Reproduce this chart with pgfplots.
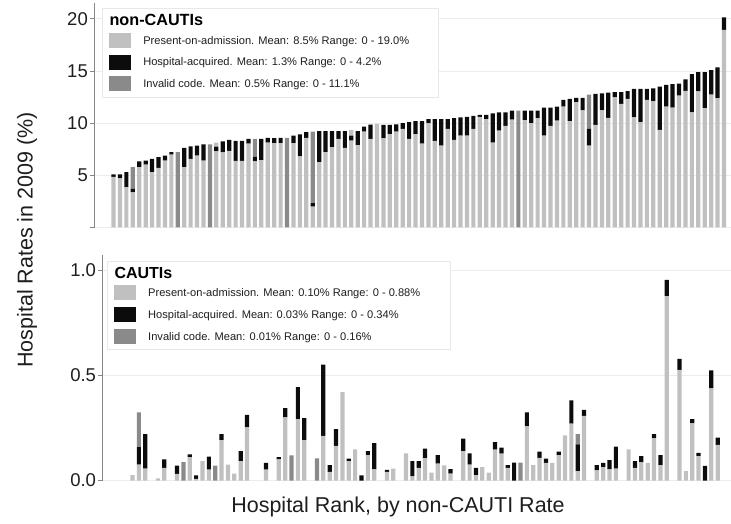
\documentclass[border=0pt]{standalone}
\usepackage{pgfplots}
\pgfplotsset{compat=1.18}
\usepackage{pgfplotstable}
\usepackage{fontspec}
\setmainfont{Liberation Sans}
\definecolor{lgray}{RGB}{192,192,192}
\definecolor{dgray}{RGB}{138,138,138}
\definecolor{kblack}{RGB}{12,12,12}
\definecolor{axgray}{RGB}{135,135,135}
\definecolor{gridgray}{RGB}{236,236,236}
\definecolor{txt}{RGB}{30,30,30}

% non-CAUTI rates: L1 = present-on-admission (bottom), D1 = invalid code,
% K = hospital-acquired, L2/D2 = remaining part drawn above the black segment
\pgfplotstableread{
x L1 D1 K L2 D2
1 4.85 0 0.25 0 0
2 4.70 0 0.40 0 0
3 3.86 0 1.44 0 0
4 3.38 0 0.33 0 2.07
5 5.78 0 0.55 0 0
6 6.04 0 0.38 0 0
7 5.30 0 1.28 0 0
8 5.72 0 1.02 0 0
9 6.42 0 0.48 0 0
10 7.00 0 0.22 0 0
11 0 7.22 0 0 0
12 5.78 0 1.86 0 0
13 6.58 0 1.19 0 0
14 6.90 0 0.96 0 0
15 6.42 0 1.54 0 0
16 0 7.96 0 0 0
17 7.30 0 0.45 0.40 0
18 7.20 0 1.05 0 0
19 7.35 0 1.05 0 0
20 6.40 0 1.90 0 0
21 6.40 0 1.90 0 0
22 8.05 0 0.45 0 0
23 6.35 0 0.45 0 1.70
24 6.45 0 2.05 0 0
25 8.15 0 0.45 0 0
26 8.08 0 0.48 0 0
27 8.08 0 0.52 0 0
28 0 8.60 0 0 0
29 8.08 0 0.74 0 0
30 6.81 0 2.11 0 0
31 8.60 0 0.54 0 0
32 2.00 0 0.33 0 6.87
33 6.26 0 2.97 0 0
34 7.22 0 2.01 0 0
35 7.70 0 1.53 0 0
36 8.50 0 0.73 0 0
37 7.64 0 1.59 0 0
38 8.34 0 0.48 0.53 0
39 7.90 0 1.33 0 0
40 9.20 0 0.47 0 0
41 8.50 0 1.36 0 0
42 9.93 0 0 0 0
43 8.55 0 1.30 0 0
44 8.95 0 0.90 0 0
45 9.20 0 0.70 0 0
46 9.45 0 0.55 0 0
47 8.50 0 1.60 0 0
48 8.95 0 1.25 0 0
49 8.05 0 2.15 0 0
50 10.00 0 0.40 0 0
51 8.30 0 2.10 0 0
52 7.85 0 2.55 0 0
53 9.45 0 0.95 0 0
54 8.40 0 2.10 0 0
55 8.80 0 1.75 0 0
56 8.80 0 1.80 0 0
57 9.45 0 1.25 0 0
58 10.60 0 0.20 0 0
59 10.40 0 0.40 0 0
60 8.15 0 2.80 0 0
61 9.30 0 1.75 0 0
62 9.75 0 1.30 0 0
63 10.35 0 0.85 0 0
64 0 11.20 0 0 0
65 10.30 0 0.90 0 0
66 10.00 0 1.20 0 0
67 10.50 0 0.70 0 0
68 8.80 0 2.70 0 0
69 9.75 0 1.75 0 0
70 10.25 0 1.35 0 0
71 11.60 0 0.64 0 0
72 10.19 0 2.14 0 0
73 12.02 0 0.41 0 0
74 11.22 0 1.21 0 0
75 7.86 0 1.60 0 3.29
76 9.84 0 2.97 0 0
77 11.22 0 1.65 0 0
78 10.51 0 2.43 0 0
79 12.49 0 0.48 0 0
80 11.85 0 1.12 0 0
81 12.33 0 0.74 0 0
82 10.57 0 2.72 0 0
83 10.10 0 3.19 0 0
84 12.24 0 1.05 0 0
85 12.11 0 1.24 0 0
86 9.36 0 4.16 0 0
87 11.60 0 2.08 0 0
88 11.50 0 2.25 0 0
89 12.65 0 1.15 0 0
90 13.10 0 1.10 0 0
91 11.05 0 3.65 0 0
92 13.05 0 1.85 0 0
93 11.45 0 3.45 0 0
94 12.75 0 2.35 0 0
95 12.40 0 2.95 0 0
96 18.95 0 1.20 0 0
}\topdata

% CAUTI rates (same hospital order)
\pgfplotstableread{
x L1 D1 K L2 D2
4 0.025 0 0 0 0
5 0.076 0 0.083 0 0.164
6 0.057 0 0.163 0 0
8 0.010 0 0 0 0
9 0.060 0 0.040 0 0
11 0.031 0 0.040 0 0
12 0 0.087 0 0 0
13 0.111 0 0.013 0 0
14 0.008 0 0.016 0 0
15 0.092 0 0 0 0
16 0.052 0 0.061 0 0
17 0 0.071 0 0 0
18 0.192 0 0.028 0 0
19 0.076 0 0 0 0
20 0.033 0 0 0 0
21 0.092 0 0.048 0 0
22 0.252 0 0.060 0 0
25 0.052 0 0.032 0 0
27 0.100 0 0.011 0 0
28 0.300 0 0.044 0 0
29 0 0.119 0 0 0
30 0.291 0 0.152 0 0
31 0.192 0 0.104 0 0
33 0 0.105 0 0 0
34 0.212 0 0.338 0 0
35 0.041 0 0.032 0 0
36 0.164 0 0.080 0 0
37 0.420 0 0 0 0
38 0.092 0 0.012 0 0
39 0.148 0 0 0 0
40 0 0 0.024 0 0
41 0.121 0 0.019 0 0
42 0.053 0 0.124 0 0
44 0.041 0 0.009 0 0
45 0.057 0 0 0 0
47 0.129 0 0 0 0
48 0.020 0 0.072 0 0
49 0.060 0 0.032 0 0
50 0.105 0 0.046 0 0
51 0.037 0 0 0 0
52 0.080 0 0.040 0 0
53 0.072 0 0 0 0
54 0.033 0 0.021 0 0
56 0.140 0 0.059 0 0
57 0.076 0 0.053 0 0
58 0.025 0 0.035 0 0
59 0.064 0 0 0 0
60 0.037 0 0 0 0
61 0.147 0 0.035 0 0
62 0.128 0 0.028 0 0
63 0.060 0 0.013 0 0
64 0 0 0.085 0 0
65 0 0.085 0 0 0
66 0.257 0 0.067 0 0
67 0.073 0 0 0 0
68 0.108 0 0.029 0 0
69 0.084 0 0.020 0 0
70 0.084 0 0 0 0
71 0.121 0 0.016 0 0
72 0.214 0 0 0 0
73 0.270 0 0.110 0 0
74 0.045 0 0.127 0 0.048
75 0.307 0 0.028 0 0
77 0.048 0 0.025 0 0
78 0.064 0 0.020 0 0
79 0.053 0 0.044 0 0
80 0.057 0 0.104 0 0
82 0.148 0 0 0 0
83 0.060 0 0.032 0 0
84 0.086 0 0.030 0 0
85 0.084 0 0 0 0
86 0.200 0 0.020 0 0
87 0.073 0 0.048 0 0
88 0.876 0 0.077 0 0
90 0.526 0 0.052 0 0
91 0.045 0 0 0 0
92 0.271 0 0.021 0 0
93 0.116 0 0.015 0 0
94 0 0 0.069 0 0
95 0.438 0 0.085 0 0
96 0.169 0 0.035 0 0
}\botdata

\pgfplotsset{
  panel/.style={
    scale only axis,
    ybar stacked,
    bar width=4.2pt,
    axis x line=none,
    axis y line*=left,
    y axis line style={axgray, line width=0.9pt},
    ytick style={axgray, line width=0.9pt},
    tick align=outside,
    major tick length=5pt,
    xtick=\empty,
    ymajorgrids,
    grid style={gridgray, line width=0.9pt},
    yticklabel style={font=\fontsize{18.5}{20}\selectfont, text=txt, inner sep=0pt, xshift=-1.5pt},
    /pgf/number format/assume math mode=true,
    legend cell align=left,
    legend style={draw=black!9, line width=0.7pt, fill=white,
      inner xsep=6.5pt, inner ysep=6pt, row sep=7.1pt, column sep=12.7pt,
      nodes={inner sep=0pt, text depth=0pt},
      font=\fontsize{11.1}{13}\selectfont, text=txt, anchor=north west},
  },
  swL/.style={legend image code/.code={\fill[lgray] (0pt,-7pt) rectangle (21pt,7pt);}},
  swK/.style={legend image code/.code={\fill[kblack] (0pt,-7pt) rectangle (21pt,7pt);}},
  swD/.style={legend image code/.code={\fill[dgray] (0pt,-7pt) rectangle (21pt,7pt);}},
}

\begin{document}
\begin{tikzpicture}
\useasboundingbox (0,0) rectangle (731pt,523pt);

% ---------------- top panel: non-CAUTIs ----------------
\begin{axis}[panel,
  at={(94.5pt,295.5pt)}, anchor=south west,
  width=636.5pt, height=224.2pt,
  xmin=-1.96, xmax=97.09, ymin=0, ymax=21.5,
  ytick={0,5,10,15,20}, yticklabels={,5,10,15,20},
  legend style={at={(axis description cs:0.0118,0.979)}},
]
\addlegendimage{empty legend}
\addlegendentry{\hspace*{-33.7pt}\fontsize{16.2}{16}\selectfont\bfseries\color{black}non-CAUTIs}
\addlegendimage{swL}
\addlegendentry{Present-on-admission. Mean: 8.5\% Range: 0 - 19.0\%\hspace*{23pt}}
\addlegendimage{swK}
\addlegendentry{Hospital-acquired. Mean: 1.3\% Range: 0 - 4.2\%}
\addlegendimage{swD}
\addlegendentry{Invalid code. Mean: 0.5\% Range: 0 - 11.1\%}
\addplot[fill=lgray, draw=none] table[x=x, y=L1] {\topdata};
\addplot[fill=dgray, draw=none] table[x=x, y=D1] {\topdata};
\addplot[fill=kblack, draw=none] table[x=x, y=K] {\topdata};
\addplot[fill=lgray, draw=none] table[x=x, y=L2] {\topdata};
\addplot[fill=dgray, draw=none] table[x=x, y=D2] {\topdata};
\end{axis}

% ---------------- bottom panel: CAUTIs ----------------
\begin{axis}[panel,
  at={(102.7pt,42.5pt)}, anchor=south west,
  width=628.3pt, height=225.5pt,
  xmin=-0.69, xmax=98.1, ymin=0, ymax=1.071,
  ytick={0,0.5,1}, yticklabels={0.0,0.5,1.0},
  legend style={at={(axis description cs:0.0068,0.9747)}},
]
\addlegendimage{empty legend}
\addlegendentry{\hspace*{-33.7pt}\fontsize{16}{16}\selectfont\bfseries\color{black}CAUTIs}
\addlegendimage{swL}
\addlegendentry{Present-on-admission. Mean: 0.10\% Range: 0 - 0.88\%\hspace*{24pt}}
\addlegendimage{swK}
\addlegendentry{Hospital-acquired. Mean: 0.03\% Range: 0 - 0.34\%}
\addlegendimage{swD}
\addlegendentry{Invalid code. Mean: 0.01\% Range: 0 - 0.16\%}
\addplot[fill=lgray, draw=none] table[x=x, y=L1] {\botdata};
\addplot[fill=dgray, draw=none] table[x=x, y=D1] {\botdata};
\addplot[fill=kblack, draw=none] table[x=x, y=K] {\botdata};
\addplot[fill=lgray, draw=none] table[x=x, y=L2] {\botdata};
\addplot[fill=dgray, draw=none] table[x=x, y=D2] {\botdata};
\end{axis}

\node[rotate=90, font=\fontsize{21.5}{24}\selectfont, text=txt] at (27pt,283pt) {Hospital Rates in 2009 (\%)};
\node[font=\fontsize{21.5}{24}\selectfont, text=txt] at (398pt,16pt) {Hospital Rank, by non-CAUTI Rate};
\end{tikzpicture}
\end{document}
